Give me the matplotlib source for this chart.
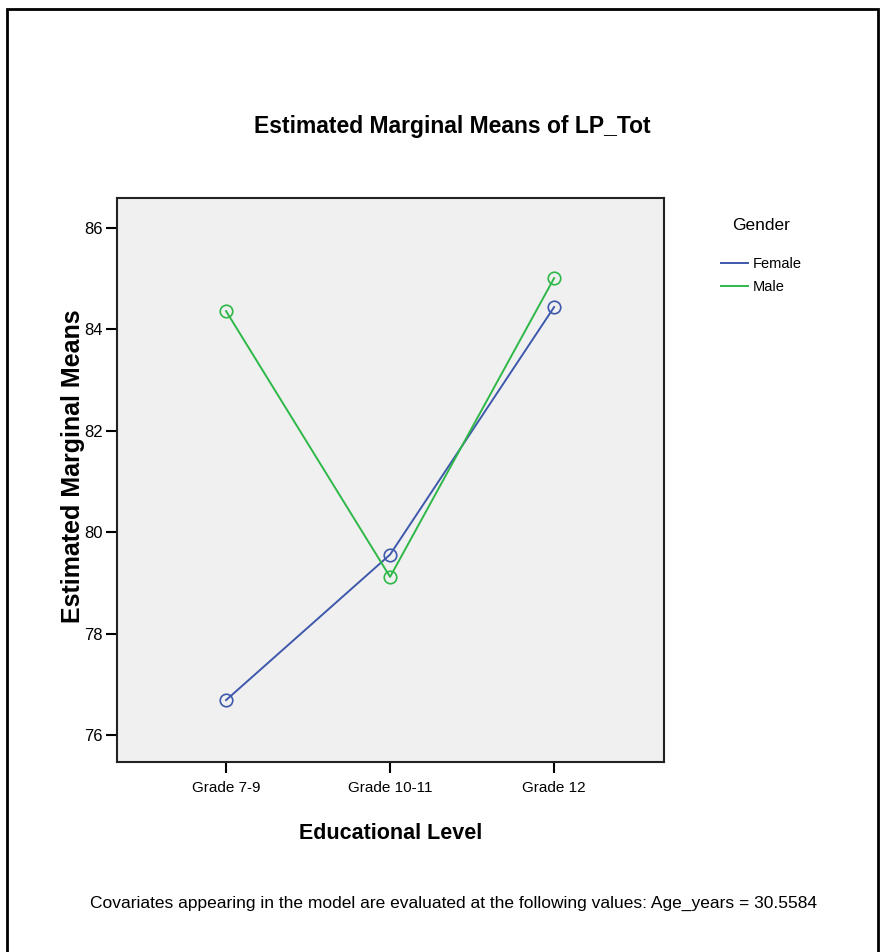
import matplotlib
matplotlib.use("Agg")
import matplotlib.pyplot as plt
from matplotlib.patches import Rectangle

# data
grades = ["Grade 7-9", "Grade 10-11", "Grade 12"]
female_means = [76.69, 79.56, 84.44]
male_means = [84.36, 79.12, 85.01]
y_ticks = [76, 78, 80, 82, 84, 86]

FONT = "Liberation Sans"
BLUE = "#3e58ac"
GREEN = "#2eb848"

fig = plt.figure(figsize=(8.81, 9.52), dpi=100)
fig.patch.set_facecolor("white")

# outer frame (bottom edge runs off the image)
fig.patches.append(Rectangle((7 / 881, -0.05), (878 - 7) / 881, 1 - 8.5 / 952 + 0.05,
                             transform=fig.transFigure, fill=False,
                             edgecolor="black", linewidth=2.0))

ax = fig.add_axes([117 / 881, 1 - 762 / 952, (664 - 117) / 881, (762 - 198) / 952])
ax.set_facecolor("#f0f0f0")

x = list(range(len(grades)))
ax.plot(x, female_means, color=BLUE, linewidth=1.4, marker="o", markersize=9,
        markerfacecolor="none", markeredgecolor=BLUE, markeredgewidth=1.2, label="Female")
ax.plot(x, male_means, color=GREEN, linewidth=1.4, marker="o", markersize=9,
        markerfacecolor="none", markeredgecolor=GREEN, markeredgewidth=1.2, label="Male")

ax.set_xlim(-0.665, 2.67)
ax.set_ylim(75.47, 86.59)
ax.set_xticks(x)
ax.set_xticklabels(grades, family=FONT, fontsize=11)
ax.set_yticks(y_ticks)
ax.set_yticklabels([str(v) for v in y_ticks], family=FONT, fontsize=12)
ax.tick_params(axis="both", direction="out", length=8, width=1.5, color="black", pad=2)
ax.tick_params(axis="x", pad=6)
for sp in ax.spines.values():
    sp.set_linewidth(1.5)
    sp.set_color("#222222")

ax.set_xlabel("Educational Level", family=FONT, fontweight="bold", fontsize=15.5, labelpad=20)
fig.text(73 / 881, 1 - 466 / 952, "Estimated Marginal Means", family=FONT, fontweight="bold",
         fontsize=18, rotation=90, ha="center", va="center")

fig.text(452 / 881, 1 - 127 / 952, "Estimated Marginal Means of LP_Tot", family=FONT,
         fontweight="bold", fontsize=16.5, ha="center", va="center")

# legend: title as its own text, entries from the plotted lines
fig.text(761 / 881, 1 - 225 / 952, "Gender", family=FONT, fontsize=12.5,
         ha="center", va="center")
leg = ax.legend(loc="upper left", bbox_to_anchor=(714 / 881, 1 - 250 / 952),
                bbox_transform=fig.transFigure, frameon=False,
                prop={"family": FONT, "size": 10.5}, handlelength=1.8, handletextpad=0.35,
                labelspacing=0.6, borderpad=0)
for h in leg.legend_handles:
    h.set_marker("")

fig.text(453 / 881, 1 - 903 / 952,
         "Covariates appearing in the model are evaluated at the following values: Age_years = 30.5584",
         family=FONT, fontsize=12.5, ha="center", va="center")

fig.savefig("out.png", dpi=100, facecolor="white")
